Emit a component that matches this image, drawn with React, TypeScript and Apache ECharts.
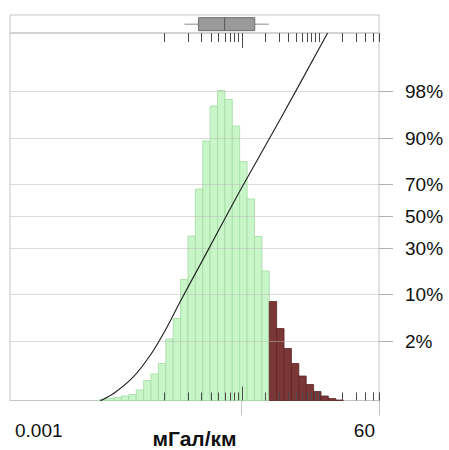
import { useEffect, useRef } from "react";
import * as echarts from "echarts";

// Horizontal extent of the gradient axis, mGal/km (log scale)
const X_MIN = 0.001;
const X_MAX = 60;

// Histogram on log10 bins: first lower edge and common width (in log10 units)
const BIN_START_LOG = -1.844;
const BIN_WIDTH_LOG = 0.0957;
const binCounts = [
  2, 4, 6, 9, 12, 21, 40, 53, 74, 123, 164, 242, 329, 423, 519, 589, 620, 602,
  549, 478, 403, 328, 259, 198, 144, 104, 74, 49, 32, 18, 9, 4, 1,
];
const COUNT_MAX = 735;
// Bins beyond the upper whisker are shaded as the tail
const TAIL_FROM = 2.25;

// Box plot summary: lower whisker, Q1, median, Q3, upper whisker
const boxStats = [0.182, 0.277, 0.601, 1.476, 2.244];

// Empirical cumulative distribution (value, cumulative probability)
const cdfValues = [0.0148, 0.0231, 0.0395, 0.0658, 0.103, 0.1615, 0.294, 0.507, 1.0, 3.21, 12.97];
const cdfProbs = [0.0012, 0.0019, 0.0041, 0.0112, 0.0306, 0.0814, 0.2153, 0.409, 0.677, 0.9453, 0.99865];

// Probability scale ticks, percent
const probTicks = [2, 10, 30, 50, 70, 90, 98];
// Normal-quantile range shown by the probability scale
const Z_MIN = -3.03;
const Z_MAX = 3.0;

// Rug ticks along the top and bottom edges
const rugValues = [
  0.1, 0.2, 0.3, 0.4, 0.5, 0.6, 0.7, 0.8, 0.9, 1, 2, 3, 4, 5, 6, 7, 8, 9, 10,
  20, 30, 40, 50, 60,
];
const rugLong = [1];

const FONT = "'Liberation Sans', Arial, sans-serif";
const FRAME = "#c4c4c4";

// Inverse standard normal CDF (Acklam's rational approximation)
function probit(p: number): number {
  const a = [-39.69683028665376, 220.9460984245205, -275.9285104469687, 138.357751867269, -30.66479806614716, 2.506628277459239];
  const b = [-54.47609879822406, 161.5858368580409, -155.6989798598866, 66.80131188771972, -13.28068155288572];
  const c = [-0.007784894002430293, -0.3223964580411365, -2.400758277161838, -2.549732539343734, 4.374664141464968, 2.938163982698783];
  const d = [0.007784695709041462, 0.3224671290700398, 2.445134137142996, 3.754408661907416];
  const pl = 0.02425;
  if (p < pl) {
    const q = Math.sqrt(-2 * Math.log(p));
    return (((((c[0] * q + c[1]) * q + c[2]) * q + c[3]) * q + c[4]) * q + c[5]) /
      ((((d[0] * q + d[1]) * q + d[2]) * q + d[3]) * q + 1);
  }
  if (p <= 1 - pl) {
    const q = p - 0.5;
    const r = q * q;
    return ((((((a[0] * r + a[1]) * r + a[2]) * r + a[3]) * r + a[4]) * r + a[5]) * q) /
      (((((b[0] * r + b[1]) * r + b[2]) * r + b[3]) * r + b[4]) * r + 1);
  }
  const q = Math.sqrt(-2 * Math.log(1 - p));
  return -(((((c[0] * q + c[1]) * q + c[2]) * q + c[3]) * q + c[4]) * q + c[5]) /
    ((((d[0] * q + d[1]) * q + d[2]) * q + d[3]) * q + 1);
}

const LOG_MIN = Math.log10(X_MIN);
const LOG_MAX = Math.log10(X_MAX);

export default function App() {
  const ref = useRef<HTMLDivElement>(null);

  useEffect(() => {
    if (!ref.current) return;
    const chart = echarts.init(ref.current, undefined, { renderer: "svg" });

    const histData = binCounts.map((c, i) => {
      const lo = BIN_START_LOG + i * BIN_WIDTH_LOG;
      const hi = lo + BIN_WIDTH_LOG;
      return [lo, hi, c, Math.pow(10, lo) >= TAIL_FROM - 1e-6 ? 1 : 0];
    });
    const cdfData = cdfValues.map((v, i) => [Math.log10(v), probit(cdfProbs[i])]);
    const probData = probTicks.map((p) => [probit(p / 100), p]);
    const rugData = rugValues.map((v) => [Math.log10(v), rugLong.includes(v) ? 1 : 0]);
    const boxData = [boxStats.map((v) => Math.log10(v))];

    const gridBase = { left: 10, right: 70, outerBoundsMode: "none", containLabel: false } as any;

    const option: echarts.EChartsOption = {
      animation: false,
      backgroundColor: "#ffffff",
      textStyle: { fontFamily: FONT },
      grid: [
        { ...gridBase, top: 15, height: 18, show: true, borderColor: FRAME, borderWidth: 1 },
        { ...gridBase, top: 33, height: 367.5, show: true, borderColor: FRAME, borderWidth: 1 },
        { ...gridBase, top: 400.5, height: 14.5 },
      ],
      xAxis: [
        { gridIndex: 0, type: "value", min: LOG_MIN, max: LOG_MAX, show: false },
        {
          gridIndex: 1,
          type: "value",
          min: LOG_MIN,
          max: LOG_MAX,
          interval: 1,
          axisLine: { show: true, lineStyle: { color: FRAME, width: 1 } },
          axisTick: { show: false },
          splitLine: { show: false },
          axisLabel: {
            margin: 20,
            fontSize: 19,
            fontFamily: FONT,
            color: "#111",
            alignMinLabel: "left",
            alignMaxLabel: "right",
            padding: [0, 4, 0, 5],
            formatter: (v: number) => {
              if (Math.abs(v - LOG_MIN) < 1e-6) return String(X_MIN);
              if (Math.abs(v - LOG_MAX) < 1e-6) return String(X_MAX);
              return "";
            },
          },
          name: "мГал/км",
          nameLocation: "middle",
          nameGap: 27,
          nameMoveOverlap: false,
          nameTextStyle: { fontSize: 21, fontWeight: "bold", color: "#111", fontFamily: FONT },
        } as any,
        { gridIndex: 2, type: "value", min: LOG_MIN, max: LOG_MAX, show: false },
      ],
      yAxis: [
        { gridIndex: 0, type: "value", min: 0, max: 1, show: false },
        { gridIndex: 1, type: "value", min: 0, max: COUNT_MAX, show: false },
        { gridIndex: 1, type: "value", min: Z_MIN, max: Z_MAX, show: false },
        {
          gridIndex: 2, type: "value", min: 0, max: 1, position: "left",
          axisLine: { show: true, lineStyle: { color: FRAME } },
          axisTick: { show: false }, axisLabel: { show: false }, splitLine: { show: false },
        },
        {
          gridIndex: 2, type: "value", min: 0, max: 1, position: "right",
          axisLine: { show: true, lineStyle: { color: FRAME } },
          axisTick: { show: false }, axisLabel: { show: false }, splitLine: { show: false },
        },
      ],
      series: [
        // Box plot in the top panel
        {
          type: "custom",
          xAxisIndex: 0,
          yAxisIndex: 0,
          z: 3,
          data: boxData,
          renderItem: (_params: any, api: any) => {
            const lw = api.coord([api.value(0), 0.49]);
            const q1 = api.coord([api.value(1), 0.85]);
            const md = api.coord([api.value(2), 0.85]);
            const q3 = api.coord([api.value(3), 0.13]);
            const hw = api.coord([api.value(4), 0.49]);
            return {
              type: "group",
              children: [
                { type: "line", shape: { x1: lw[0], y1: lw[1], x2: q1[0], y2: lw[1] }, style: { stroke: "#8a8a8a", lineWidth: 1 } },
                { type: "line", shape: { x1: q3[0], y1: hw[1], x2: hw[0], y2: hw[1] }, style: { stroke: "#8a8a8a", lineWidth: 1 } },
                {
                  type: "rect",
                  shape: { x: q1[0], y: q1[1], width: q3[0] - q1[0], height: q3[1] - q1[1] },
                  style: { fill: "#9a9a9a", stroke: "#6a6a6a", lineWidth: 1 },
                },
                { type: "line", shape: { x1: md[0], y1: q1[1], x2: md[0], y2: q3[1] }, style: { stroke: "#555", lineWidth: 1 } },
              ],
            };
          },
        },
        // Histogram
        {
          type: "custom",
          xAxisIndex: 1,
          yAxisIndex: 1,
          z: 2,
          data: histData,
          encode: { x: [0, 1], y: 2 },
          renderItem: (_params: any, api: any) => {
            const p0 = api.coord([api.value(0), api.value(2)]);
            const p1 = api.coord([api.value(1), 0]);
            const tail = api.value(3) === 1;
            return {
              type: "rect",
              shape: { x: p0[0], y: p0[1], width: p1[0] - p0[0], height: p1[1] - p0[1] },
              style: tail
                ? { fill: "#7b3636", stroke: "#5e2626", lineWidth: 0.8 }
                : { fill: "#c8f6c8", stroke: "#a2dca2", lineWidth: 0.8 },
            };
          },
        },
        // Probability scale: grid lines, ticks and labels on the right
        {
          type: "custom",
          xAxisIndex: 1,
          yAxisIndex: 2,
          z: 4,
          clip: false,
          data: probData,
          renderItem: (_params: any, api: any) => {
            const l = api.coord([LOG_MIN, api.value(0)]);
            const r = api.coord([LOG_MAX, api.value(0)]);
            const y = Math.round(l[1]) + 0.5;
            return {
              type: "group",
              children: [
                { type: "line", shape: { x1: l[0], y1: y, x2: r[0], y2: y }, style: { stroke: "rgba(185,185,185,0.5)", lineWidth: 1 } },
                { type: "line", shape: { x1: r[0], y1: y, x2: r[0] + 14, y2: y }, style: { stroke: "#b0b0b0", lineWidth: 1 } },
                {
                  type: "text",
                  style: {
                    text: api.value(1) + "%",
                    x: r[0] + 26,
                    y: y,
                    verticalAlign: "middle",
                    align: "left",
                    fontSize: 19,
                    fontFamily: FONT,
                    fill: "#111",
                  },
                },
              ],
            };
          },
        },
        // Rug ticks along top and bottom edges
        {
          type: "custom",
          xAxisIndex: 1,
          yAxisIndex: 2,
          z: 5,
          clip: false,
          data: rugData,
          renderItem: (_params: any, api: any) => {
            const top = api.coord([api.value(0), Z_MAX]);
            const bot = api.coord([api.value(0), Z_MIN]);
            const long = api.value(1) === 1;
            const x = Math.round(top[0]) + 0.5;
            return {
              type: "group",
              children: [
                { type: "line", shape: { x1: x, y1: top[1], x2: x, y2: top[1] + (long ? 15 : 9) }, style: { stroke: "#4a4a4a", lineWidth: 1 } },
                { type: "line", shape: { x1: x, y1: bot[1], x2: x, y2: bot[1] - (long ? 14 : 8) }, style: { stroke: "#4a4a4a", lineWidth: 1 } },
              ],
            };
          },
        },
        // Cumulative distribution on the probability scale
        {
          type: "line",
          xAxisIndex: 1,
          yAxisIndex: 2,
          z: 6,
          data: cdfData,
          showSymbol: false,
          smooth: 0.3,
          clip: true,
          lineStyle: { color: "#1e1e1e", width: 1.1 },
        },
      ],
    };

    chart.setOption(option);
    return () => chart.dispose();
  }, []);

  return (
    <div
      ref={ref}
      style={{ position: "fixed", left: 0, top: 0, width: 449, height: 450, background: "#fff" }}
    />
  );
}
